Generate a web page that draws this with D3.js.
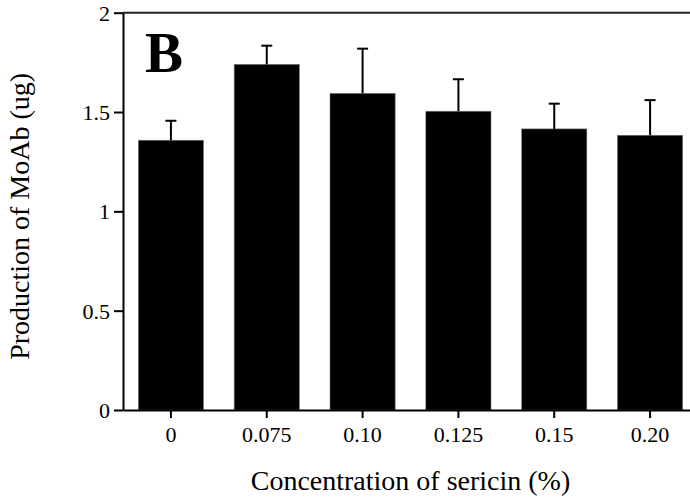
<!DOCTYPE html>
<html>
<head>
<meta charset="utf-8">
<script src="https://cdn.jsdelivr.net/npm/d3@7"></script>
<style>
  html, body { margin: 0; padding: 0; background: #fff; }
  svg { display: block; }
</style>
</head>
<body>
<svg id="chart" width="690" height="500"></svg>
<script>
const categories = ["0", "0.075", "0.10", "0.125", "0.15", "0.20"];
const means = [1.358, 1.74, 1.594, 1.504, 1.415, 1.383];
const errors = [0.098, 0.094, 0.225, 0.161, 0.127, 0.177];
const yTicks = [0, 0.5, 1, 1.5, 2];
const yTickLabels = ["0", "0.5", "1", "1.5", "2"];
const xTitle = "Concentration of sericin (%)";
const yTitle = "Production of MoAb (ug)";
const panelLabel = "B";

(function () {
const font = "'Liberation Serif', 'Times New Roman', serif";
const svg = d3.select("#chart");

const pLeft = 123, pRight = 698, pTop = 12.7, pBottom = 410;

const x = d3.scaleBand().domain(categories).range([pLeft, pRight])
  .paddingInner(0.32).paddingOuter(0.16);
const y = d3.scaleLinear().domain([0, 2]).range([pBottom, pTop]);

const data = categories.map((c, i) => ({ c, m: means[i], e: errors[i] }));

// bars
svg.append("g").selectAll("rect").data(data).join("rect")
  .attr("x", d => x(d.c))
  .attr("y", d => y(d.m))
  .attr("width", x.bandwidth())
  .attr("height", d => y(0) - y(d.m))
  .attr("fill", "#000")
  .attr("stroke", "#777")
  .attr("stroke-width", 0.6);

// error bars (upper only)
const eb = svg.append("g").attr("stroke", "#000").attr("stroke-width", 2);
eb.selectAll("line.v").data(data).join("line").attr("class", "v")
  .attr("x1", d => x(d.c) + x.bandwidth() / 2)
  .attr("x2", d => x(d.c) + x.bandwidth() / 2)
  .attr("y1", d => y(d.m))
  .attr("y2", d => y(d.m + d.e));
eb.selectAll("line.cap").data(data).join("line").attr("class", "cap")
  .attr("x1", d => x(d.c) + x.bandwidth() / 2 - 5.5)
  .attr("x2", d => x(d.c) + x.bandwidth() / 2 + 5.5)
  .attr("y1", d => y(d.m + d.e))
  .attr("y2", d => y(d.m + d.e));

// top frame line
svg.append("line")
  .attr("x1", pLeft).attr("x2", pRight)
  .attr("y1", y(2)).attr("y2", y(2))
  .attr("stroke", "#222").attr("stroke-width", 2);

// y axis
const yAxis = svg.append("g")
  .attr("transform", `translate(${pLeft},0)`)
  .call(d3.axisLeft(y).tickValues(yTicks)
    .tickFormat((d, i) => yTickLabels[i])
    .tickSize(9).tickSizeOuter(0).tickPadding(4));
yAxis.selectAll("path, line").attr("stroke", "#000").attr("stroke-width", 2);
yAxis.selectAll("text").attr("font-family", font).attr("font-size", 22)
  .attr("fill", "#000").attr("dy", "0.34em");

// x axis
const xAxis = svg.append("g")
  .attr("transform", `translate(0,${pBottom})`)
  .call(d3.axisBottom(x).tickSize(8).tickSizeOuter(0));
xAxis.selectAll("path, line").attr("stroke", "#000").attr("stroke-width", 2);
xAxis.selectAll("text").attr("font-family", font).attr("font-size", 22)
  .attr("fill", "#000").attr("y", 32).attr("dy", 0);

// axis titles
svg.append("text")
  .attr("x", (pLeft + pRight) / 2).attr("y", 490)
  .attr("text-anchor", "middle")
  .attr("font-family", font).attr("font-size", 28)
  .text(xTitle);

svg.append("text")
  .attr("transform", `translate(29,${(pTop + pBottom) / 2 + 5}) rotate(-90)`)
  .attr("text-anchor", "middle")
  .attr("font-family", font).attr("font-size", 28)
  .text(yTitle);

// panel label
svg.append("text")
  .attr("x", 145).attr("y", 71.5)
  .attr("font-family", font).attr("font-size", 57).attr("font-weight", "bold")
  .text(panelLabel);
})();
</script>
</body>
</html>
